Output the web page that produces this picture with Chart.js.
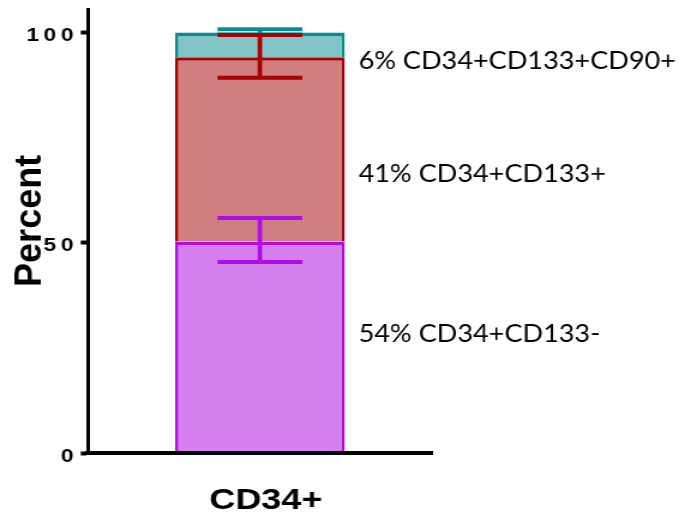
<!DOCTYPE html>
<html>
<head>
<meta charset="utf-8">
<title>CD34+ subsets</title>
<script src="https://cdn.jsdelivr.net/npm/chart.js@4/dist/chart.umd.min.js"></script>
<style>
  html, body { margin: 0; padding: 0; background: #fff; }
  #chart { display: block; width: 679px !important; height: 515px !important; }
</style>
</head>
<body>
<canvas id="chart" width="566" height="515"></canvas>
<script>
// Category on the x axis
const categories = ['CD34+'];
// Stacked segments, bottom to top (percent of CD34+ cells)
const seriesNames = ['CD34+CD133-', 'CD34+CD133+', 'CD34+CD133+CD90+'];
const segmentValues = [50.3, 43.8, 5.9];
// Error bar extents above and below each segment top
const errorPlus = [5.6, 5.3, 0.8];
const errorMinus = [4.9, 4.85, 0.5];
// Y axis ticks
const yTicks = [0, 50, 100];
// Side annotations, one per segment
const annotationTexts = ['54% CD34+CD133-', '41% CD34+CD133+', '6% CD34+CD133+CD90+'];
const yTitle = 'Percent';

const fills = ['#d680ef', '#cf7f7f', '#82c3c8'];
const strokes = ['#b00de6', '#a80000', '#078c95'];

const errorBarPlugin = {
  id: 'errorBars',
  afterDatasetsDraw(chart) {
    const ctx = chart.ctx;
    const yScale = chart.scales.y;
    ctx.save();
    ctx.lineCap = 'butt';
    // top segment first so lower segments' bars sit over it
    for (let i = segmentValues.length - 1; i >= 0; i--) {
      const meta = chart.getDatasetMeta(i);
      const bar = meta.data[0];
      if (!bar) continue;
      let cum = 0;
      for (let k = 0; k <= i; k++) cum += segmentValues[k];
      const yTop = yScale.getPixelForValue(cum + errorPlus[i]);
      const yBot = yScale.getPixelForValue(cum - errorMinus[i]);
      const half = bar.width / 4;
      ctx.strokeStyle = strokes[i];
      ctx.lineWidth = 3.7;
      ctx.beginPath();
      ctx.moveTo(bar.x, yTop);
      ctx.lineTo(bar.x, yBot);
      ctx.stroke();
      ctx.lineWidth = 4;
      ctx.beginPath();
      ctx.moveTo(bar.x - half, yTop);
      ctx.lineTo(bar.x + half, yTop);
      ctx.moveTo(bar.x - half, yBot);
      ctx.lineTo(bar.x + half, yBot);
      ctx.stroke();
    }
    ctx.restore();
  }
};

const textPlugin = {
  id: 'sideText',
  afterDraw(chart, args, opts) {
    const ctx = chart.ctx;
    const yScale = chart.scales.y;
    const bar = chart.getDatasetMeta(0).data[0];
    ctx.save();
    // rotated y axis title
    ctx.fillStyle = '#000';
    ctx.font = 'bold 36px "Liberation Sans", Arial, sans-serif';
    ctx.textAlign = 'center';
    ctx.textBaseline = 'middle';
    ctx.translate(opts.titleX, yScale.getPixelForValue(opts.titleAt));
    ctx.scale(opts.titleSqueeze, 1);
    ctx.rotate(-Math.PI / 2);
    ctx.fillText(yTitle, 0, 0);
    ctx.restore();

    ctx.save();
    ctx.fillStyle = '#000';
    ctx.font = '25.5px Lato, "Open Sans", sans-serif';
    ctx.textAlign = 'left';
    ctx.textBaseline = 'middle';
    ctx.scale(opts.squeeze, 1);
    const x0 = bar.x + bar.width / 2 + opts.gap;
    annotationTexts.forEach((t, i) => {
      const y = yScale.getPixelForValue(opts.anchors[i]);
      ctx.fillText(t, x0 / opts.squeeze, y);
    });
    ctx.restore();
  }
};

new Chart(document.getElementById('chart'), {
  type: 'bar',
  data: {
    labels: categories,
    datasets: seriesNames.map((name, i) => ({
      label: name,
      data: [segmentValues[i]],
      backgroundColor: fills[i],
      borderColor: strokes[i],
      borderWidth: { top: 3.5, left: 2.8, right: 2.8, bottom: 0 },
      borderSkipped: false,
      barPercentage: 0.4935,
      categoryPercentage: 1
    }))
  },
  options: {
    responsive: false,
    maintainAspectRatio: false,
    animation: false,
    devicePixelRatio: 1,
    layout: { padding: { top: 9.5, right: 206, bottom: 0, left: 0 } },
    plugins: {
      legend: { display: false },
      tooltip: { enabled: false },
      sideText: {
        titleX: 25.5, titleAt: 55.2, titleSqueeze: 0.88,
        gap: 11.5, squeeze: 0.885, anchors: [28.4, 66.4, 93.2]
      }
    },
    scales: {
      x: {
        stacked: true,
        grid: { display: false },
        border: { display: true, color: '#000', width: 4, z: 1 },
        ticks: {
          color: '#000',
          font: { family: '"Liberation Sans", Arial, sans-serif', weight: 'bold', size: 30 },
          padding: 22,
          labelOffset: 5
        },
        afterFit(scale) { scale.height = 62; }
      },
      y: {
        stacked: true,
        min: 0,
        max: 105.47,
        afterBuildTicks(scale) { scale.ticks = yTicks.map(v => ({ value: v })); },
        grid: {
          display: true,
          drawOnChartArea: false,
          drawTicks: true,
          tickLength: 6,
          tickWidth: 4,
          tickColor: '#000',
          color: '#000'
        },
        border: { display: true, color: '#000', width: 3 },
        ticks: {
          color: '#000',
          font: { family: '"Liberation Sans", Arial, sans-serif', weight: 'bold', size: 19 },
          padding: 6,
          labelOffset: 3.5,
          callback: v => String(v).split('').join('\u2009')
        },
        afterFit(scale) {
          scale.width = 73.3;
          scale.paddingTop = 0;
          scale.paddingBottom = 0;
        }
      }
    }
  },
  plugins: [errorBarPlugin, textPlugin]
});
</script>
</body>
</html>
